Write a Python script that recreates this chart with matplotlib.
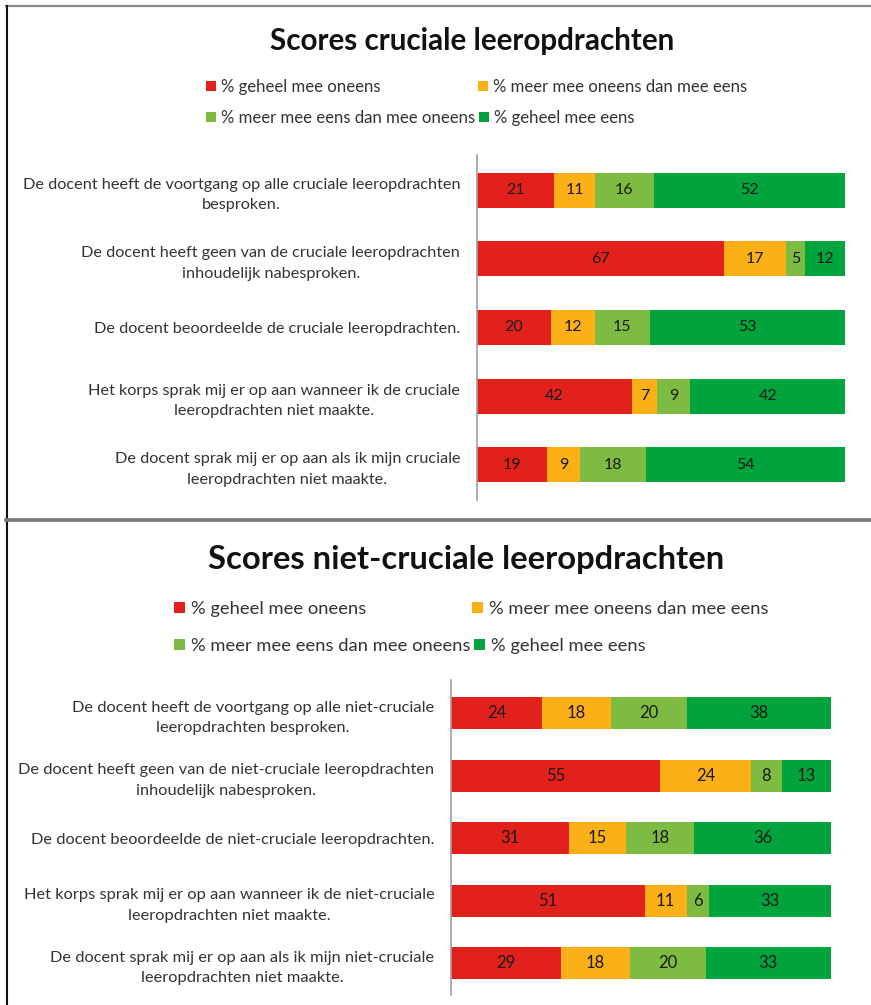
import matplotlib.pyplot as plt
import matplotlib as mpl
from matplotlib.patches import Patch
from matplotlib.lines import Line2D

W, H = 871, 1005

series = ['% geheel mee oneens', '% meer mee oneens dan mee eens',
          '% meer mee eens dan mee oneens', '% geheel mee eens']
colors = ['#E2211C', '#FBB018', '#7DBB42', '#00A33C']

top_title = 'Scores cruciale leeropdrachten'
top_labels = [
    'De docent heeft de voortgang op alle cruciale leeropdrachten\nbesproken.',
    'De docent heeft geen van de cruciale leeropdrachten\ninhoudelijk nabesproken.',
    'De docent beoordeelde de cruciale leeropdrachten.',
    'Het korps sprak mij er op aan wanneer ik de cruciale\nleeropdrachten niet maakte.',
    'De docent sprak mij er op aan als ik mijn cruciale\nleeropdrachten niet maakte.',
]
top_geheel_oneens = [21, 67, 20, 42, 19]
top_meer_oneens = [11, 17, 12, 7, 9]
top_meer_eens = [16, 5, 15, 9, 18]
top_geheel_eens = [52, 12, 53, 42, 54]

bot_title = 'Scores niet-cruciale leeropdrachten'
bot_labels = [
    'De docent heeft de voortgang op alle niet-cruciale\nleeropdrachten besproken.',
    'De docent heeft geen van de niet-cruciale leeropdrachten\ninhoudelijk nabesproken.',
    'De docent beoordeelde de niet-cruciale leeropdrachten.',
    'Het korps sprak mij er op aan wanneer ik de niet-cruciale\nleeropdrachten niet maakte.',
    'De docent sprak mij er op aan als ik mijn niet-cruciale\nleeropdrachten niet maakte.',
]
bot_geheel_oneens = [24, 55, 31, 51, 29]
bot_meer_oneens = [18, 24, 15, 11, 18]
bot_meer_eens = [20, 8, 18, 6, 20]
bot_geheel_eens = [38, 13, 36, 33, 33]

mpl.rcParams['font.family'] = ['Lato', 'DejaVu Sans']
mpl.rcParams['text.color'] = '#333333'


def px_axes(fig, x0, y0, x1, y1):
    # pixel box (top-left origin) -> figure axes
    return fig.add_axes([x0 / W, 1 - y1 / H, (x1 - x0) / W, (y1 - y0) / H])


def legend_item(fig, x, y, color, label, size):
    fig.legend(handles=[Patch(facecolor=color, edgecolor='none')], labels=[label],
               loc='center left', bbox_to_anchor=(x / W, 1 - y / H),
               frameon=False, handlelength=0.6, handleheight=0.6,
               handletextpad=0.3, borderpad=0, borderaxespad=0,
               fontsize=size, labelcolor='#333333')


def panel(fig, box, ylim, labels, data, fs_label, fs_value):
    ax = px_axes(fig, *box)
    n = len(labels)
    ypos = list(range(n))
    left = [0] * n
    for vals, c in zip(data, colors):
        bars = ax.barh(ypos, vals, left=left, height=0.51, color=c, edgecolor='none')
        ax.bar_label(bars, labels=[str(v) for v in vals], label_type='center',
                     fontsize=fs_value, color='#1a1a1a')
        left = [l + v for l, v in zip(left, vals)]
    ax.set_xlim(0, 100)
    ax.set_ylim(*ylim)
    ax.set_yticks(ypos)
    ax.set_yticklabels(labels, fontsize=fs_label, color='#333333')
    for lbl in ax.get_yticklabels():
        lbl.set_multialignment('center')
        lbl.set_linespacing(1.6)
    ax.tick_params(axis='y', length=0, pad=12)
    ax.set_xticks([])
    for s in ['top', 'right', 'bottom']:
        ax.spines[s].set_visible(False)
    ax.spines['left'].set_color('#a0a0a0')
    ax.spines['left'].set_linewidth(1.2)
    return ax


fig = plt.figure(figsize=(W / 100, H / 100), dpi=100)
fig.patch.set_facecolor('white')

# frame lines
fig.add_artist(Line2D([6 / W, 1], [1 - 6.5 / H, 1 - 6.5 / H], color='#8a8a8a', lw=1.6))
fig.add_artist(Line2D([6.5 / W, 6.5 / W], [1 - 6 / H, 0], color='#111111', lw=1.5))
fig.add_artist(Line2D([6 / W, 870 / W], [1 - 519.5 / H, 1 - 519.5 / H], color='#777777', lw=2.6))

# top panel
fig.text(472 / W, 1 - 41 / H, top_title, ha='center', va='center',
         fontsize=21.3, fontweight='bold', color='#111111')
legend_item(fig, 206, 87, colors[0], series[0], 12.1)
legend_item(fig, 478, 87, colors[1], series[1], 12.1)
legend_item(fig, 206, 118, colors[2], series[2], 12.1)
legend_item(fig, 479, 118, colors[3], series[3], 12.1)
panel(fig, (477, 155, 845, 500), (4.51, -0.51), top_labels,
      [top_geheel_oneens, top_meer_oneens, top_meer_eens, top_geheel_eens], 11.7, 11.5)

# bottom panel
fig.text(466 / W, 1 - 560 / H, bot_title, ha='center', va='center',
         fontsize=23.6, fontweight='bold', color='#111111')
legend_item(fig, 174, 609, colors[0], series[0], 13.2)
legend_item(fig, 472, 609, colors[1], series[1], 13.2)
legend_item(fig, 174, 646, colors[2], series[2], 13.2)
legend_item(fig, 474, 646, colors[3], series[3], 13.2)
panel(fig, (451, 680, 831, 995), (4.51, -0.53), bot_labels,
      [bot_geheel_oneens, bot_meer_oneens, bot_meer_eens, bot_geheel_eens], 11.8, 12)

fig.savefig('out.png', dpi=100)
